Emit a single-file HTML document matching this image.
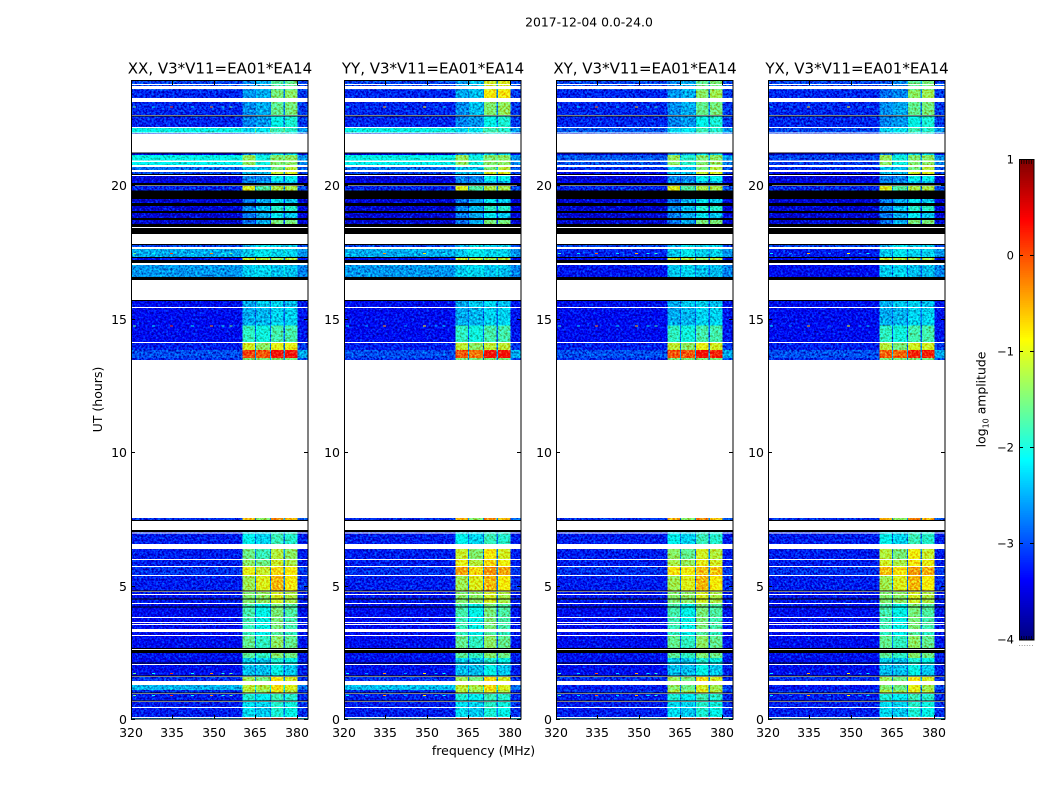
<!DOCTYPE html>
<html lang="en">
<head>
<meta charset="utf-8">
<title>2017-12-04 amplitude waterfall</title>
<style>
html,body{margin:0;padding:0;background:#fff;width:1050px;height:800px;overflow:hidden}
svg{display:block}
text{font-family:"DejaVu Sans","Liberation Sans",sans-serif;fill:#000}
</style>
</head>
<body>
<svg id="chart" xmlns="http://www.w3.org/2000/svg" width="1050" height="800" viewBox="0 0 1050 800">
<defs>
<filter id="speckle" x="0" y="0" width="1" height="1" color-interpolation-filters="sRGB">
<feTurbulence type="fractalNoise" baseFrequency="0.48" numOctaves="2" seed="7" result="n"/>
<feColorMatrix in="n" type="matrix" values="0 0 0 0 .5  1 0 0 0 0  1 0 0 0 0  0 0 0 0 1" result="g"/>
<feComposite in="SourceGraphic" in2="g" operator="arithmetic" k1="0" k2="1" k3="1.2" k4="-0.65" result="m"/>
<feComposite in="m" in2="SourceGraphic" operator="in"/>
</filter>
</defs>
<text x="589" y="26.5" font-size="12.4" text-anchor="middle">2017-12-04 0.0-24.0</text>
<text x="483.5" y="755" font-size="12.5" text-anchor="middle">frequency (MHz)</text>
<text transform="translate(102,399.5) rotate(-90)" font-size="12.5" text-anchor="middle">UT (hours)</text>
<g id="panels"></g>
<g id="colorbar"></g>
</svg>
<script>
// ---- data (frequency in MHz, time in UT hours, values in log10 amplitude) ----
const panelTitles = ["XX, V3*V11=EA01*EA14", "YY, V3*V11=EA01*EA14", "XY, V3*V11=EA01*EA14", "YX, V3*V11=EA01*EA14"];
const freqTicks = [320, 335, 350, 365, 380];
const timeTicks = [0, 5, 10, 15, 20];
const colorTicks = [-4, -3, -2, -1, 0, 1];
const freqEdges = [320, 360.4, 364.8, 365.2, 370.2, 370.6, 375.1, 375.7, 380.2, 384];
// each row: start hour, end hour, background, block1, block2, block3, block4, upper tail
const bands = [
 [23.80,23.91,-3.0,-2.7,-2.5,-1.7,-1.6,-3.0],
 [23.73,23.76,-3.0,-2.7,-2.5,-1.7,-1.6,-3.0],
 [23.58,23.61,-3.0,-2.7,-2.5,-1.7,-1.6,-3.0],
 [23.28,23.58,-3.15,-2.6,-2.5,-1.5,-1.4,-3.05],
 [22.64,23.13,-3.15,-2.65,-2.5,-1.6,-1.5,-3.05],
 [22.19,22.60,-3.15,-2.7,-2.6,-2.05,-1.95,-3.05],
 [21.98,22.15,-2.05,-2.3,-2.2,-1.8,-1.9,-2.6],
 [21.93,21.98,-3.1,-2.7,-2.5,-2.2,-2.2,-3.0],
 [21.14,21.23,-3.5,-2.7,-2.6,-2.3,-2.3,-3.4],
 [20.93,21.14,-2.05,-1.35,-2.0,-1.45,-1.4,-2.6],
 [20.76,20.88,-2.1,-1.4,-2.0,-1.45,-1.4,-2.7],
 [20.58,20.69,-2.8,-2.4,-2.4,-1.5,-1.2,-2.9],
 [20.43,20.50,-3.0,-2.4,-2.4,-1.1,-1.0,-3.0],
 [20.17,20.35,-3.5,-2.7,-2.7,-2.1,-2.1,-3.5],
 [20.09,20.17,-3.4,-2.7,-2.6,-2.4,-2.4,-3.4],
 [19.80,19.98,-3.15,-1.0,-1.7,-1.25,-1.25,-3.0],
 [19.34,19.49,-3.55,-2.75,-2.5,-2.2,-2.35,-3.5],
 [19.04,19.23,-3.55,-2.65,-2.4,-1.9,-1.9,-3.5],
 [18.78,18.97,-3.55,-2.75,-2.5,-2.2,-2.35,-3.5],
 [18.55,18.70,-3.55,-2.8,-2.5,-1.5,-1.5,-3.5],
 [17.69,17.77,-3.0,-2.5,-2.2,-2.3,-2.3,-3.0],
 [17.32,17.62,-2.5,-2.35,-2.2,-2.3,-2.3,-2.6],
 [17.20,17.28,-3.3,-1.1,-1.2,-1.3,-1.2,-3.3],
 [16.57,17.02,-2.6,-2.35,-2.3,-2.4,-2.4,-2.7],
 [15.44,15.67,-3.3,-2.5,-2.35,-2.3,-2.4,-3.25],
 [14.75,15.40,-3.3,-2.5,-2.45,-2.3,-2.3,-3.25],
 [14.13,14.75,-3.3,-1.85,-2.0,-1.75,-1.75,-3.25],
 [13.83,14.09,-3.2,-1.05,-1.4,-0.95,-0.95,-3.05],
 [13.53,13.83,-2.95,0.0,-0.1,0.25,0.25,-2.5],
 [13.46,13.53,-3.1,-1.5,-1.5,-1.5,-1.5,-3.0],
 [7.42,7.53,-3.1,-0.55,-1.4,-0.35,-0.6,-2.9],
 [6.93,7.01,-3.2,-2.3,-2.3,-1.95,-1.95,-3.2],
 [6.56,6.93,-3.2,-2.1,-2.3,-1.8,-1.9,-3.2],
 [6.00,6.37,-3.2,-1.55,-1.8,-1.2,-1.4,-3.2],
 [5.73,5.96,-3.2,-1.4,-1.55,-1.1,-1.25,-3.2],
 [5.40,5.70,-3.1,-0.95,-1.1,-0.75,-0.85,-3.05],
 [4.80,5.36,-3.2,-1.3,-1.0,-0.6,-0.85,-3.1],
 [4.35,4.76,-3.25,-1.45,-1.4,-1.05,-1.25,-3.2],
 [3.82,4.31,-3.3,-1.75,-2.05,-1.5,-1.7,-3.25],
 [3.37,3.79,-3.3,-1.8,-2.05,-1.5,-1.75,-3.25],
 [3.15,3.26,-3.3,-1.85,-2.1,-1.7,-1.85,-3.25],
 [2.66,3.11,-3.3,-1.6,-1.85,-1.4,-1.6,-3.25],
 [2.29,2.47,-3.25,-1.65,-1.85,-1.45,-1.55,-3.2],
 [2.06,2.29,-3.3,-2.3,-2.35,-1.95,-2.05,-3.2],
 [1.61,2.02,-3.3,-2.4,-2.4,-2.05,-2.35,-3.2],
 [1.42,1.57,-3.1,-1.3,-1.5,-0.8,-1.05,-3.1],
 [1.09,1.27,-2.45,-1.15,-1.25,-0.75,-1.0,-2.8],
 [0.97,1.09,-3.1,-1.2,-1.35,-0.95,-1.2,-3.1],
 [0.67,0.94,-3.2,-1.95,-2.15,-1.8,-1.9,-3.15],
 [0.45,0.64,-3.2,-2.25,-2.3,-1.9,-2.0,-3.1],
 [0.07,0.41,-3.2,-2.25,-2.35,-1.95,-2.05,-3.1],
 [0.00,0.04,-2.5,0.0,-0.05,0.15,0.05,-2.2]
];
// polarization-specific adjustments: panel, start hour, end hour, then level changes
const panelChanges = [
 [1,23.2,23.95,0,0.1,0.1,0.65,0.6,0],
 [1,22.6,23.2,0,0,0.1,0.15,0.15,0],
 [1,13.53,13.83,0,-0.1,-0.15,0,0,0],
 [1,13.83,14.09,0,-0.1,0,-0.2,-0.2,0],
 [1,5.36,6.4,0,0.45,0.35,0.35,0.35,0],
 [1,1.09,1.27,0.05,0,0,0,0,0],
 [2,23.2,23.95,0,0,0,0.1,0.1,0],
 [2,21.98,22.15,-0.85,0,0,0,0,0],
 [2,20.76,21.14,-0.85,0,0.1,0,0,0],
 [2,20.43,20.69,-0.3,0,0,0,0,0],
 [2,17.32,17.62,-0.65,0,0,0,0,0],
 [2,16.57,17.02,-0.65,0,0,0,0,0],
 [2,1.09,1.27,-0.75,-0.25,-0.3,-0.3,-0.3,-0.2],
 [2,13.53,14.09,0,-0.1,0,0,-0.1,0],
 [2,5.36,6.4,0,0.15,0.2,0.15,0.2,0],
 [3,23.2,23.95,0,-0.2,-0.2,0.1,0.1,0],
 [3,21.98,22.15,-0.95,0,0,0,0,0],
 [3,20.76,21.14,-0.95,0,0,0,0,0],
 [3,20.43,20.69,-0.3,0,0,0,0,0],
 [3,17.32,17.62,-0.7,0,0,0,0,0],
 [3,16.57,17.02,-0.7,0,0,0,0,0],
 [3,1.09,1.27,-0.8,-0.3,-0.3,-0.2,-0.3,-0.2],
 [3,13.53,14.09,0,-0.15,-0.1,-0.1,-0.1,0],
 [3,5.36,6.4,0,0.35,0.3,0.3,0.3,0]
];
// masked single-sample rows: hour
const whiteRows = [23.78, 23.70, 22.62, 22.17, 21.96, 20.90, 20.74, 20.54, 20.38, 17.65, 17.30, 15.42, 14.11, 6.97, 5.98, 5.72, 5.38, 4.67, 4.33, 3.80, 3.62, 3.54, 2.04, 0.43, 0.06];
// opaque black rows: start hour, end hour
const blackRows = [
 [22.60,22.62],[21.20,21.23],[20.40,20.43],[20.00,20.09],
 [19.49,19.80],[19.23,19.34],[18.97,19.04],[18.70,18.78],[18.44,18.55],[18.18,18.40],
 [17.77,17.80],[17.28,17.31],[17.09,17.20],[16.45,16.57],[15.67,15.70],
 [7.44,7.46],[7.01,7.08],[4.78,4.82],[4.48,4.52],[4.18,4.22],
 [2.62,2.66],[2.47,2.59],[2.08,2.12],[1.59,1.63],[0.95,0.99],[0.65,0.69]
];
// narrow interference: hour, then level per frequency
const rfiHours = [22.93, 17.45, 14.72, 1.70, 0.88];
const rfiFreqs = [321, 328, 334.4, 342, 349, 353, 356];
const rfiLevels = [-1.6, -2.1, 0.1, -2.1, -0.3, -2.0, -1.6];
const rfiPanelGain = [1, 0.75, 0.9, 0.7];

// ---- helpers ----
const panelLefts = [131, 344, 556, 768];
const panelW = 177, plotTop = 81, plotBottom = 719;
const xMin = 320, xMax = 384, yMin = 0, yMax = 23.91;
const xScale = (f, left) => left + (f - xMin) / (xMax - xMin) * panelW;
const yScale = t => plotBottom - (t - yMin) / (yMax - yMin) * (plotBottom - plotTop);
const NS = 'http://www.w3.org/2000/svg';
function mk(tag, attrs, parent) {
  const el = document.createElementNS(NS, tag);
  for (const k in attrs) el.setAttribute(k, attrs[k]);
  parent.appendChild(el);
  return el;
}
function jet(t) {
  const c = x => Math.round(255 * Math.max(0, Math.min(1, x)));
  const r = 1.5 - Math.abs(4 * t - 3);
  const g = 1.5 - Math.abs(4 * t - 2);
  const b = 1.5 - Math.abs(4 * t - 1);
  return 'rgb(' + c(r) + ',' + c(g) + ',' + c(b) + ')';
}
const colorOf = v => jet((v + 4) / 5);
function minus(n) { return n < 0 ? '\u2212' + (-n) : String(n); }

// ---- panels ----
const panelsRoot = document.getElementById('panels');
panelTitles.forEach((title, p) => {
  const left = panelLefts[p];
  const g = mk('g', {}, panelsRoot);
  
  

  const cells = mk('g', { filter: 'url(#speckle)', 'shape-rendering': 'crispEdges' }, g);
  
  
  bands.forEach(row => {
    const levels = row.slice(2);
    const mid = (row[0] + row[1]) / 2;
    panelChanges.forEach(ch => {
      if (ch[0] === p && mid >= ch[1] && mid <= ch[2]) {
        for (let i = 0; i < 6; i++) levels[i] += ch[3 + i];
      }
    });
    const gap = levels[0] + 0.45;
    const cols = [levels[0], levels[1], gap, levels[2], gap, levels[3], gap, levels[4], levels[5]];
    const y0 = yScale(row[1]), y1 = yScale(row[0]);
    cols.forEach((v, i) => {
      const x0 = xScale(freqEdges[i], left), x1 = xScale(freqEdges[i + 1], left);
      const r = mk('rect', { x: x0, y: y0, width: x1 - x0, height: y1 - y0, fill: colorOf(v) }, cells);
      
      
    });
  });

  const marks = mk('g', { 'shape-rendering': 'crispEdges' }, g);
  
  
  rfiHours.forEach(h => {
    rfiFreqs.forEach((f, i) => {
      const v = rfiLevels[i] * 1 - (1 - rfiPanelGain[p]) * 2;
      const r = mk('rect', { x: xScale(f, left) - 1, y: yScale(h) - 0.5, width: 3, height: 1, fill: colorOf(v) }, marks);
      
      
    });
  });
  whiteRows.forEach(h => {
    const r = mk('rect', { x: left, y: yScale(h) - 0.5, width: panelW, height: 1, fill: '#fff' }, marks);
    
    
  });
  blackRows.forEach(b => {
    const y0 = yScale(b[1]), y1 = yScale(b[0]);
    const r = mk('rect', { x: left, y: y0, width: panelW, height: Math.max(1, y1 - y0), fill: '#000' }, marks);
    
    
  });

  const frame = mk('rect', { x: left + 0.5, y: plotTop - 0.5, width: panelW - 1 + 0.5, height: plotBottom - plotTop + 0.5, fill: 'none', stroke: '#000', 'stroke-width': 1 }, g);
  
  

  freqTicks.forEach(f => {
    const x = Math.round(xScale(f, left)) + 0.5;
    const t1 = mk('path', { d: 'M' + x + ' ' + plotBottom + 'v-4M' + x + ' ' + plotTop + 'v4', stroke: '#000', fill: 'none' }, g);
    
    
    const lab = mk('text', { x: x - 0.5, y: 737, 'font-size': 12.5, 'text-anchor': 'middle' }, g);
    lab.textContent = f;
    
    
  });
  timeTicks.forEach(t => {
    const y = Math.round(yScale(t)) + 0.5;
    const t1 = mk('path', { d: 'M' + left + ' ' + y + 'h4M' + (left + panelW) + ' ' + y + 'h-4', stroke: '#000', fill: 'none' }, g);
    
    
    const lab = mk('text', { x: left - 4, y: y + 4.5, 'font-size': 12.5, 'text-anchor': 'end' }, g);
    lab.textContent = t;
    
    
  });

  const ttl = mk('text', { x: left + panelW / 2 + 0.5, y: 73.5, 'font-size': 15, 'text-anchor': 'middle' }, g);
  ttl.textContent = title;
  
  
});

// ---- colour bar ----
const cb = document.getElementById('colorbar');


const cbLeft = 1019, cbW = 15, cbTop = 160, cbBottom = 640;
const cbScale = v => cbBottom - (v + 4) / 5 * (cbBottom - cbTop);
const cbSteps = mk('g', { 'shape-rendering': 'crispEdges' }, cb);


for (let i = 0; i < 256; i++) {
  const t = i / 256;
  const v = -4 + t * 5;
  const y1 = cbScale(v), y0 = cbScale(v + 5 / 256);
  const r = mk('rect', { x: cbLeft, y: y0, width: cbW, height: y1 - y0 + 0.5, fill: jet(t) }, cbSteps);
  
  
}
const cbFrame = mk('rect', { x: cbLeft + 0.5, y: cbTop - 0.5, width: cbW - 1 + 0.5, height: cbBottom - cbTop + 0.5, fill: 'none', stroke: '#000' }, cb);


colorTicks.forEach(v => {
  const y = Math.round(cbScale(v)) - 0.5;
  const t = mk('path', { d: 'M' + cbLeft + ' ' + y + 'h4M' + (cbLeft + cbW) + ' ' + y + 'h-4', stroke: '#000', fill: 'none' }, cb);
  
  
  const lab = mk('text', { x: cbLeft - 5, y: y + 4, 'font-size': 11.5, 'text-anchor': 'end' }, cb);
  lab.textContent = minus(v);
  
  
});
[2.5, 5, 7.5, 10, 12.5].forEach(dx => {
  const x = cbLeft + dx;
  const m = mk('path', { d: 'M' + x + ' ' + cbTop + 'v4M' + x + ' ' + cbBottom + 'v-4', stroke: '#000', 'stroke-width': 0.7, fill: 'none' }, cb);
  
  
});
const dots = mk('text', { x: cbLeft + 7, y: 646, 'font-size': 8, 'text-anchor': 'middle', style: 'fill:#888' }, cb);
dots.textContent = '......';


const cbLabel = mk('text', { transform: 'translate(985.5,399.5) rotate(-90)', 'font-size': 12.4, 'text-anchor': 'middle' }, cb);


cbLabel.textContent = 'log';
const sub = mk('tspan', { 'font-size': 8, dy: 3 }, cbLabel);
sub.textContent = '10';
const rest = mk('tspan', { dy: -3 }, cbLabel);
rest.textContent = ' amplitude';
</script>
</body>
</html>
